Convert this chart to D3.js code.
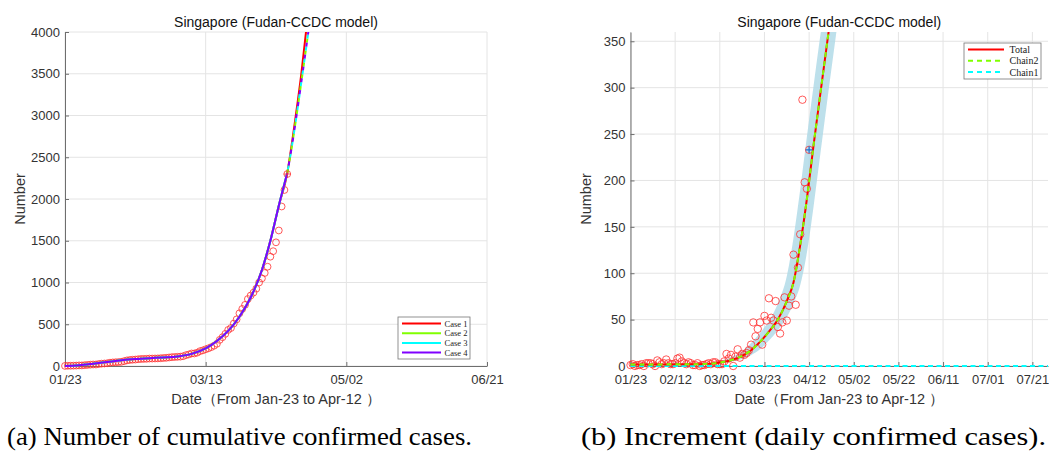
<!DOCTYPE html>
<html>
<head>
<meta charset="utf-8">
<script src="https://cdn.jsdelivr.net/npm/d3@7"></script>
<style>
body { margin: 0; background: #fff; }
text { font-family: "Liberation Sans", Arial, sans-serif; }
</style>
</head>
<body>
<svg id="chart" width="1049" height="453"></svg>
<script>
// ---- data (day 0 = 2020-01-23) ----
var cumulative = [1,3,3,4,5,7,7,10,13,
    16,18,18,24,28,30,33,40,43,45,47,50,58,67,72,75,77,81,84,85,86,89,89,90,91,93,96,98,102,
    106,108,110,112,117,130,138,150,150,160,178,187,200,212,226,243,266,313,345,385,432,455,509,558,631,683,732,802,844,879,926,
    1000,1049,1114,1189,1309,1375,1481,1623,1910,2108,2299];
var daily = [1,2,0,1,1,2,0,3,3,
    3,2,0,6,4,2,3,7,3,2,2,3,8,9,5,3,2,4,3,1,1,3,0,1,1,2,3,2,4,
    4,2,2,2,5,13,8,12,0,10,18,9,13,12,14,17,23,47,32,40,47,23,54,49,73,52,49,70,42,35,47,
    74,49,65,75,120,66,106,142,287,198,191,233];

// cumulative model (left) - fitted part shared by all cases
var fitDays = [0, 5, 10, 15, 20, 25, 30, 35, 40, 45, 50, 54, 58, 62, 66, 70, 73, 76, 79];
var fitVals = [0, 10, 28, 48, 68, 83, 94, 103, 115, 145, 210, 300, 420, 590, 820, 1150, 1500, 1920, 2310];
// projections
var case1Days = [79, 80, 82, 84, 86];
var case1Vals = [2310, 2520, 2990, 3500, 4100];
var caseDashDays = [79, 80, 82, 84, 86, 87];
var caseDashVals = [2310, 2500, 2930, 3400, 3880, 4130];
var caseNames = ["Case 1", "Case 2", "Case 3", "Case 4"];
var caseColors = ["#ff0000", "#80ff00", "#00ffff", "#8000ff"];

// increment model (right)
var totalDays = [0, 10, 20, 30, 38, 42, 46, 50, 54, 58, 62, 66, 70, 73, 76, 79, 82, 85, 89];
var totalVals = [1.5, 1.5, 2, 2, 3, 4.5, 7, 11, 17, 26, 37, 50, 70, 90, 130, 180, 238, 293, 365];
var chain1Days = [0, 187];
var chain1Vals = [0, 0];
var bandDays  = [38, 42, 46, 50, 54, 58, 62, 66, 70, 73, 76, 79, 82, 85, 89, 92, 95];
var bandUpper = [4.2, 6.7, 10.5, 16.2, 24.9, 35.6, 48.4, 67.5, 96.7, 138, 190, 247, 302, 356, 420, 480, 540];
var bandLower = [2.3, 3.2, 5, 7.5, 11.7, 18, 27.4, 38.6, 52.5, 67.5, 87, 122, 172, 228, 302, 356, 410];
var seriesNames = ["Total", "Chain2", "Chain1"];

var leftXTicks = [0, 50, 100, 150];
var leftYTicks = [0, 500, 1000, 1500, 2000, 2500, 3000, 3500, 4000];
var rightXTicks = [0, 20, 40, 60, 80, 100, 120, 140, 160, 180];
var rightYTicks = [0, 50, 100, 150, 200, 250, 300, 350];

var startDate = new Date(Date.UTC(2020, 0, 23));
var fmt = d3.utcFormat("%m/%d");
function dayLabel(d) { return fmt(d3.utcDay.offset(startDate, d)); }

var svg = d3.select("#chart");
var defs = svg.append("defs");
var serif = '"Liberation Serif", "Times New Roman", serif';

function panel(id, box, xDomain, yDomain, xTicks, yTicks) {
    var x = d3.scaleLinear().domain(xDomain).range([box.x0, box.x1]);
    var y = d3.scaleLinear().domain(yDomain).range([box.y1, box.y0]);
    // clip leaves room for markers sitting on the axes
    defs.append("clipPath").attr("id", id)
        .append("rect").attr("x", box.x0 - 6).attr("y", box.y0)
        .attr("width", box.x1 - box.x0 + 6).attr("height", box.y1 - box.y0 + 6);

    var grid = svg.append("g").attr("stroke", "#e4e4e4").attr("stroke-width", 1);
    xTicks.forEach(function (t) {
        grid.append("line").attr("x1", x(t)).attr("x2", x(t)).attr("y1", box.y0).attr("y2", box.y1);
    });
    yTicks.forEach(function (t) {
        grid.append("line").attr("x1", box.x0).attr("x2", box.x1).attr("y1", y(t)).attr("y2", y(t));
    });

    var xAxis = svg.append("g").attr("transform", "translate(0," + box.y1 + ")")
        .call(d3.axisBottom(x).tickValues(xTicks).tickFormat(dayLabel).tickSizeInner(-4).tickSizeOuter(0).tickPadding(9));
    var yAxis = svg.append("g").attr("transform", "translate(" + box.x0 + ",0)")
        .call(d3.axisLeft(y).tickValues(yTicks).tickFormat(d3.format("d")).tickSizeInner(-4).tickSizeOuter(0).tickPadding(5));
    [xAxis, yAxis].forEach(function (a) {
        a.select(".domain").attr("stroke", "#6e6e6e");
        a.selectAll(".tick line").attr("stroke", "#6e6e6e");
        a.selectAll("text").attr("fill", "#333").style("font-size", "13px")
            .style("font-family", '"Liberation Sans", Arial, sans-serif');
    });

    var cx = (box.x0 + box.x1) / 2;
    svg.append("text").attr("x", cx).attr("y", 27).attr("text-anchor", "middle")
        .attr("fill", "#111").style("font-size", "14px").text("Singapore (Fudan-CCDC model)");
    svg.append("text").attr("x", cx).attr("y", 404).attr("text-anchor", "middle")
        .attr("fill", "#333").style("font-size", "14.5px").text("Date（From Jan-23 to Apr-12 ）");
    svg.append("text").attr("transform", "translate(" + (box.x0 - 40) + "," + ((box.y0 + box.y1) / 2) + ") rotate(-90)")
        .attr("text-anchor", "middle").attr("fill", "#333").style("font-size", "14.5px").text("Number");

    var plot = svg.append("g").attr("clip-path", "url(#" + id + ")");
    return { x: x, y: y, plot: plot };
}

function pts(days, vals) { return days.map(function (d, i) { return [d, vals[i]]; }); }

// ---------------- left panel ----------------
var L = panel("clipL", { x0: 65, x1: 487, y0: 32, y1: 366 }, [0, 150], [0, 4000], leftXTicks, leftYTicks);
var lineL = d3.line().x(function (d) { return L.x(d[0]); }).y(function (d) { return L.y(d[1]); }).curve(d3.curveMonotoneX);

L.plot.selectAll("circle.obs").data(cumulative).enter().append("circle")
    .attr("class", "obs")
    .attr("cx", function (d, i) { return L.x(i); })
    .attr("cy", function (d) { return L.y(d); })
    .attr("r", 3.4).attr("fill", "none").attr("stroke", "#ff3030").attr("stroke-width", 0.8);

// case 1 red solid throughout
L.plot.append("path").attr("d", lineL(pts(fitDays, fitVals).concat(pts(case1Days, case1Vals).slice(1))))
    .attr("fill", "none").attr("stroke", caseColors[0]).attr("stroke-width", 2);
// cases 2-4 fitted (solid) and projected (dashed)
[1, 2, 3].forEach(function (k, j) {
    L.plot.append("path").attr("d", lineL(pts(fitDays, fitVals)))
        .attr("fill", "none").attr("stroke", caseColors[k]).attr("stroke-width", 2);
    L.plot.append("path").attr("d", lineL(pts(caseDashDays, caseDashVals)))
        .attr("fill", "none").attr("stroke", caseColors[k]).attr("stroke-width", 2)
        .attr("stroke-dasharray", "4,8").attr("stroke-dashoffset", -4 * j);
});
var lastL = cumulative.length - 1;
L.plot.append("path")
    .attr("d", "M" + (L.x(lastL) - 3.5) + "," + L.y(cumulative[lastL]) + "h7M" + L.x(lastL) + "," + (L.y(cumulative[lastL]) - 3.5) + "v7")
    .attr("stroke", "#ff3030").attr("stroke-width", 0.8);

// left legend
var lg = svg.append("g").attr("transform", "translate(398,317)");
lg.append("rect").attr("width", 72).attr("height", 42).attr("fill", "#fff").attr("stroke", "#777").attr("stroke-width", 0.8);
caseNames.forEach(function (n, i) {
    var yy = 6.5 + i * 9.7;
    lg.append("line").attr("x1", 4).attr("x2", 43).attr("y1", yy).attr("y2", yy)
        .attr("stroke", caseColors[i]).attr("stroke-width", 2);
    lg.append("text").attr("x", 46.5).attr("y", yy + 3).attr("fill", "#222")
        .style("font-family", serif).style("font-size", "8.5px").text(n);
});

// ---------------- right panel ----------------
var R = panel("clipR", { x0: 630.5, x1: 1048, y0: 32, y1: 366 }, [0, 187], [0, 360], rightXTicks, rightYTicks);
var lineR = d3.line().x(function (d) { return R.x(d[0]); }).y(function (d) { return R.y(d[1]); }).curve(d3.curveMonotoneX);
var area = d3.area().x(function (d, i) { return R.x(bandDays[i]); })
    .y0(function (d, i) { return R.y(bandLower[i]); })
    .y1(function (d, i) { return R.y(bandUpper[i]); }).curve(d3.curveMonotoneX);

R.plot.append("path").attr("d", area(bandDays)).attr("fill", "#add8e6").attr("opacity", 0.8);
R.plot.selectAll("circle.obs").data(daily).enter().append("circle")
    .attr("class", "obs")
    .attr("cx", function (d, i) { return R.x(i); })
    .attr("cy", function (d) { return R.y(d); })
    .attr("r", 3.7).attr("fill", "none").attr("stroke", "#ff3030").attr("stroke-width", 0.8);
R.plot.append("path").attr("d", lineR(pts(chain1Days, chain1Vals)))
    .attr("fill", "none").attr("stroke", "#00ffff").attr("stroke-width", 2).attr("stroke-dasharray", "5,3.5");
R.plot.append("path").attr("d", lineR(pts(totalDays, totalVals)))
    .attr("fill", "none").attr("stroke", "#ff0000").attr("stroke-width", 2);
R.plot.append("path").attr("d", lineR(pts(totalDays, totalVals)))
    .attr("fill", "none").attr("stroke", "#80ff00").attr("stroke-width", 2).attr("stroke-dasharray", "5,4");
var lastR = daily.length - 1;
R.plot.append("path")
    .attr("d", "M" + (R.x(lastR) - 3.5) + "," + R.y(daily[lastR]) + "h7M" + R.x(lastR) + "," + (R.y(daily[lastR]) - 3.5) + "v7")
    .attr("stroke", "#1f6fd0").attr("stroke-width", 1.2);

// right legend
var rg = svg.append("g").attr("transform", "translate(964,43)");
rg.append("rect").attr("width", 77).attr("height", 36).attr("fill", "#fff").attr("stroke", "#777").attr("stroke-width", 0.8);
var legStyle = [{ c: "#ff0000", dash: null }, { c: "#80ff00", dash: "5,4" }, { c: "#00ffff", dash: "5,4" }];
seriesNames.forEach(function (n, i) {
    var yy = 6.5 + i * 11.3;
    var ln = rg.append("line").attr("x1", 4).attr("x2", 40).attr("y1", yy).attr("y2", yy)
        .attr("stroke", legStyle[i].c).attr("stroke-width", 2);
    if (legStyle[i].dash) ln.attr("stroke-dasharray", legStyle[i].dash);
    rg.append("text").attr("x", 45.5).attr("y", yy + 3.5).attr("fill", "#222")
        .style("font-family", serif).style("font-size", "10px").text(n);
});

// ---------------- captions ----------------
svg.append("text").attr("x", 7).attr("y", 445).attr("fill", "#000")
    .attr("textLength", 465).attr("lengthAdjust", "spacingAndGlyphs")
    .style("font-family", serif).style("font-size", "26px")
    .text("(a) Number of cumulative confirmed cases.");
svg.append("text").attr("x", 581).attr("y", 445).attr("fill", "#000")
    .attr("textLength", 465).attr("lengthAdjust", "spacingAndGlyphs")
    .style("font-family", serif).style("font-size", "26px")
    .text("(b) Increment (daily confirmed cases).");
</script>
</body>
</html>
